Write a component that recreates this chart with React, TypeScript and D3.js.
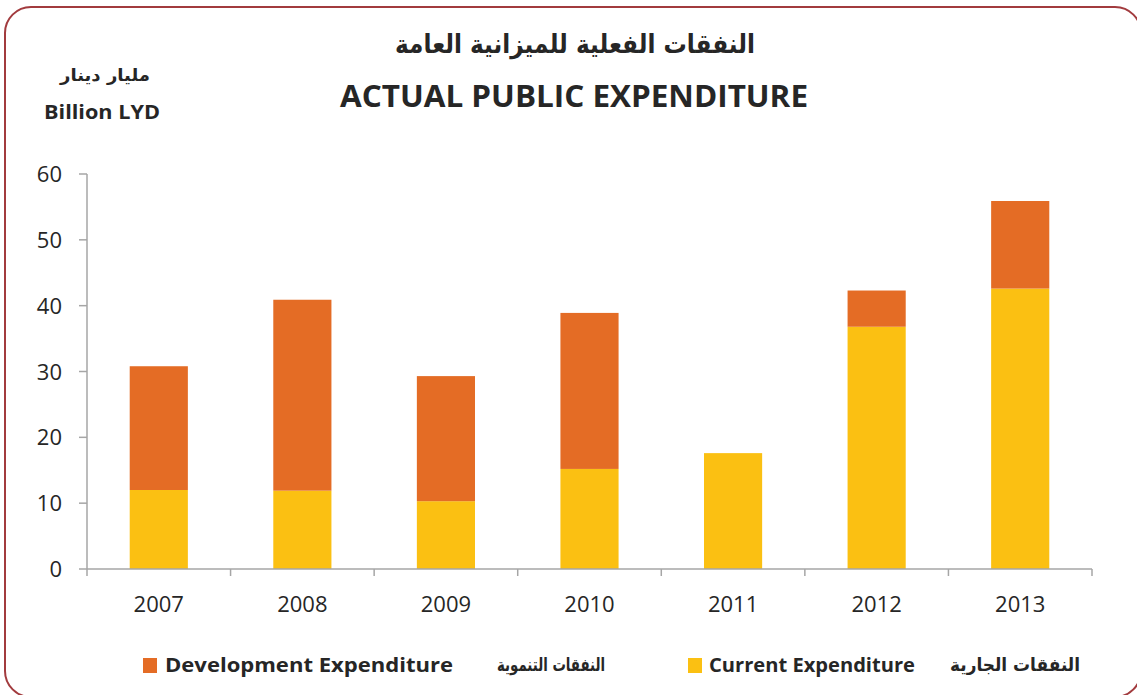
import React from 'react';
import * as d3 from 'd3';

// years on the x axis
const years = ['2007', '2008', '2009', '2010', '2011', '2012', '2013'];
// billion LYD
const currentExp = [12.0, 11.9, 10.3, 15.2, 17.6, 36.8, 42.6];
const developmentExp = [18.8, 29.0, 19.0, 23.7, 0, 5.5, 13.3];
const yTicks = [0, 10, 20, 30, 40, 50, 60];

const ORANGE = '#E46C25';
const YELLOW = '#FBC012';
const AXIS = '#A6A6A6';
const TEXT = '#262626';
const LATIN = '"Open Sans", "Noto Sans", sans-serif';
const ARABIC = '"DejaVu Sans", sans-serif';

const App = () => {
  const W = 1137;
  const H = 695;
  const left = 87;
  const right = 1092;
  const top = 174;
  const bottom = 569;

  const x = d3.scaleBand().domain(years).range([left, right]).padding(0);
  const y = d3.scaleLinear().domain([0, 60]).range([bottom, top]);
  const barW = x.bandwidth() * 0.405;

  // stack current (bottom) + development (top)
  const rows = years.map((yr, i) => ({ year: yr, current: currentExp[i], development: developmentExp[i] }));
  const stacked = d3.stack<any>().keys(['current', 'development'])(rows);
  const colors: Record<string, string> = { current: YELLOW, development: ORANGE };

  return (
    <svg width={W} height={H} style={{ position: 'absolute', left: 0, top: 0 }}>
      <rect x={0} y={0} width={W} height={H} fill="#fff" />
      <rect x={5} y={7} width={1136} height={690} rx={26} ry={26} fill="none" stroke="#A23B3E" strokeWidth={2} />

      {/* titles */}
      <text x={575} y={53} textAnchor="middle" fontFamily={ARABIC} fontWeight="bold" fontSize={26} fill={TEXT}
        textLength={360} lengthAdjust="spacingAndGlyphs">
        النفقات الفعلية للميزانية العامة
      </text>
      <text x={574} y={107} textAnchor="middle" fontFamily={LATIN} fontWeight="bold" fontSize={30} fill={TEXT}
        textLength={468} lengthAdjust="spacingAndGlyphs">
        ACTUAL PUBLIC EXPENDITURE
      </text>
      <text x={105} y={81} textAnchor="middle" fontFamily={ARABIC} fontWeight="bold" fontSize={17} fill={TEXT}
        textLength={90} lengthAdjust="spacingAndGlyphs">
        مليار دينار
      </text>
      <text x={102} y={119} textAnchor="middle" fontFamily={LATIN} fontWeight="bold" fontSize={20} fill={TEXT}
        textLength={116} lengthAdjust="spacingAndGlyphs">
        Billion LYD
      </text>

      {/* bars */}
      {stacked.map(layer => (
        <g key={layer.key} fill={colors[layer.key]}>
          {layer.map((d, i) =>
            d[1] - d[0] > 0 ? (
              <rect
                key={i}
                x={(x(years[i]) as number) + (x.bandwidth() - barW) / 2}
                y={y(d[1])}
                width={barW}
                height={y(d[0]) - y(d[1])}
              />
            ) : null
          )}
        </g>
      ))}

      {/* y axis */}
      <line x1={left} x2={left} y1={top} y2={bottom} stroke={AXIS} strokeWidth={1.5} />
      {yTicks.map(t => (
        <g key={t}>
          <line x1={left - 8} x2={left} y1={y(t)} y2={y(t)} stroke={AXIS} strokeWidth={1.5} />
          <text x={62} y={y(t) + 8} textAnchor="end" fontFamily={LATIN} fontSize={22} fill={TEXT}>
            {t}
          </text>
        </g>
      ))}

      {/* x axis */}
      <line x1={left} x2={right} y1={bottom} y2={bottom} stroke={AXIS} strokeWidth={1.5} />
      {[...years.map(yr => x(yr) as number), right].map((px, i) => (
        <line key={i} x1={px} x2={px} y1={bottom} y2={bottom + 7} stroke={AXIS} strokeWidth={1.5} />
      ))}
      {years.map(yr => (
        <text key={yr} x={(x(yr) as number) + x.bandwidth() / 2} y={612} textAnchor="middle" fontFamily={LATIN} fontSize={22} fill={TEXT}>
          {yr}
        </text>
      ))}

      {/* legend */}
      <rect x={143} y={658} width={14} height={15} fill={ORANGE} />
      <text x={165} y={672} fontFamily={LATIN} fontWeight="bold" fontSize={20} fill={TEXT}
        textLength={288} lengthAdjust="spacingAndGlyphs">
        Development Expenditure
      </text>
      <text x={605} y={671} textAnchor="end" fontFamily={ARABIC} fontWeight="bold" fontSize={18} fill={TEXT}
        textLength={108} lengthAdjust="spacingAndGlyphs">
        النفقات التنموية
      </text>
      <rect x={688} y={658} width={14} height={15} fill={YELLOW} />
      <text x={709} y={672} fontFamily={LATIN} fontWeight="bold" fontSize={20} fill={TEXT}
        textLength={206} lengthAdjust="spacingAndGlyphs">
        Current Expenditure
      </text>
      <text x={1080} y={671} textAnchor="end" fontFamily={ARABIC} fontWeight="bold" fontSize={18} fill={TEXT}
        textLength={130} lengthAdjust="spacingAndGlyphs">
        النفقات الجارية
      </text>
    </svg>
  );
};

export default App;
